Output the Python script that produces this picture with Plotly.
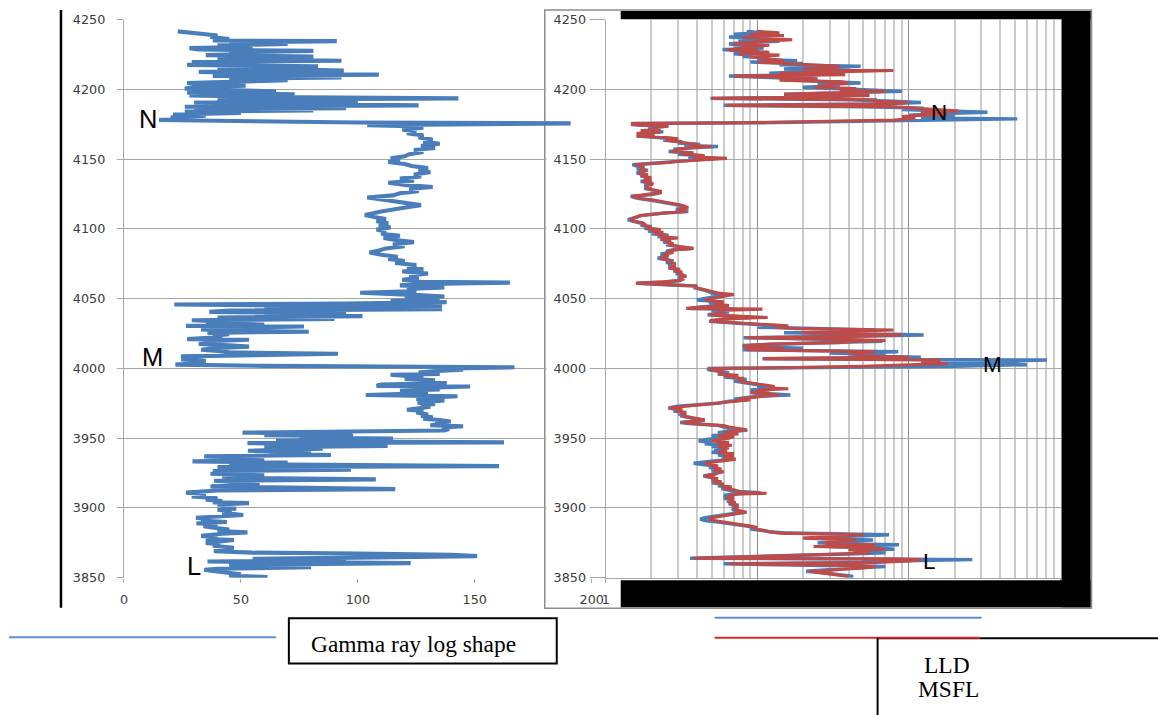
import math
import plotly.graph_objects as go

# The photographed page appears slightly shrunk and offset; positions below are
# reference pixels converted to page pixels through that measured mapping.
BX, AX = 0.9835, 3.0
BY, AY = 0.978, 8.0
W, H = 1180, 725
S = 1 / 0.98  # size compensation for fonts / line widths


def qx(p):
    return (p - AX) / BX


def qy(p):
    return (p - AY) / BY


def fx(p):
    return qx(p) / W


def fy(p):
    return 1 - qy(p) / H


# ---------------- Gamma ray log (API) vs depth ----------------
gr_depth_a = [4241.5, 4240.5, 4239.5, 4238.5, 4237.5, 4236.0, 4235.0, 4234.5, 4233.5, 4232.5,
              4231.5, 4230.5, 4229.5, 4228.5, 4227.5, 4226.5, 4225.5, 4224.5, 4223.5, 4222.5,
              4221.5, 4220.5, 4219.5, 4218.5, 4217.5, 4216.5, 4215.5, 4214.5, 4213.5, 4212.5,
              4211.5, 4210.5, 4209.5, 4208.5, 4207.5, 4206.5, 4205.5, 4204.5, 4203.5, 4202.5,
              4201.5, 4200.5, 4199.5, 4198.5, 4197.5, 4196.5, 4195.5, 4194.5, 4193.5, 4192.5,
              4191.5, 4190.5, 4189.5, 4188.5, 4187.5, 4186.5, 4185.5, 4184.8, 4184.0, 4183.0,
              4182.0, 4181.0, 4180.0, 4179.0, 4178.0, 4177.2, 4176.2, 4175.6, 4175.0, 4174.3]
gr_value_a = [23, 30, 35, 40, 37, 45, 38, 91, 45, 70,
              40, 55, 28, 32, 81, 45, 60, 35, 81, 40,
              55, 93, 29, 50, 27, 83, 40, 70, 94, 32,
              60, 109, 38, 93, 45, 70, 40, 27, 35, 52,
              30, 26, 45, 65, 27, 73, 28, 60, 143, 40,
              100, 30, 80, 126, 26, 95, 30, 81, 26, 50,
              21, 35, 20, 25, 15, 45, 100, 191, 112, 104]

gr_depth_b = [4173.5, 4172.5, 4171, 4170, 4168.5, 4167, 4165.5, 4164, 4162.5, 4161,
              4159.5, 4158, 4156.5, 4155, 4153.5, 4152, 4150.5, 4149.5, 4148, 4146.5,
              4145, 4143.5, 4142, 4140.5, 4139, 4137.5, 4136, 4134.5, 4133, 4131.5,
              4130, 4128.5, 4127, 4125.5, 4124, 4122.5, 4121.5, 4120, 4118.5, 4117,
              4115.5, 4114, 4112.5, 4111, 4110, 4108.5, 4107, 4105.5, 4104, 4102.5,
              4101, 4099.5, 4098, 4096.5, 4095, 4093.5, 4092, 4090.5, 4089, 4087.5,
              4086, 4084.5, 4083, 4081.5, 4080, 4078.5, 4077, 4075.5, 4074, 4072.5,
              4071, 4069.5, 4068, 4066.5, 4065, 4063.5, 4062, 4061.5, 4060.5, 4059.5,
              4058, 4057, 4055.5, 4054.2, 4053.5, 4052.5, 4051.5, 4050.5, 4049.5, 4048.5,
              4047.5, 4046.5]
gr_value_b = [122, 128, 119, 125, 121, 128, 126, 132, 128, 135,
              127, 133, 124, 128, 122, 120, 114, 118, 113, 120,
              123, 130, 126, 131, 124, 127, 118, 124, 113, 120,
              132, 122, 126, 118, 115, 104, 108, 115, 120, 127,
              121, 115, 110, 106, 103, 107, 112, 108, 113, 109,
              114, 108, 112, 110, 118, 111, 116, 124, 115, 120,
              112, 109, 105, 110, 117, 113, 120, 116, 125, 121,
              128, 119, 130, 122, 126, 119, 127, 165, 128, 118,
              137, 121, 125, 101, 115, 126, 137, 120, 135, 114,
              138, 95]

gr_depth_c = [4045.8, 4045, 4044.3, 4043.5, 4042.5, 4041.5, 4040.5, 4039.5, 4038.5, 4037.5,
              4036.5, 4035.5, 4034.5, 4033.5, 4032.5, 4031.5, 4030.5, 4030, 4029, 4028,
              4027, 4026.3, 4025.5, 4024.5, 4023.5, 4022.5, 4021, 4020.5, 4019.5, 4018.5,
              4017.5, 4016.5, 4015.6, 4014.5, 4013.4, 4012.5, 4011.5, 4010.5, 4009.5, 4008.6,
              4007.5, 4006.5, 4005.5, 4004.5, 4003.5, 4002.7, 4001.8, 4000.8, 4000]
gr_value_c = [21.5, 90, 136, 60, 136, 45, 36.5, 95, 60, 102,
              40, 90, 29, 45, 35, 60, 26.5, 77, 40, 33,
              45, 79, 35.7, 45, 38, 42, 27, 53.5, 35, 40,
              32, 45, 53.5, 38, 33, 40, 45, 91.5, 40, 24.4,
              30, 24.5, 35, 28, 30, 22, 60, 167, 140]

gr_depth_d = [3999, 3998, 3997, 3996, 3995.5, 3994.5, 3993.5, 3992.5, 3991.5, 3990.5,
              3989.5, 3988.5, 3987.5, 3987, 3986, 3985, 3984, 3983, 3982, 3981,
              3980, 3979, 3978, 3977, 3976, 3975.4, 3974.5, 3973.5, 3972.5, 3971.5,
              3970.4, 3969.5, 3968.5, 3967, 3966, 3965, 3964, 3963, 3962, 3961,
              3960, 3959.3, 3958.5, 3957.5, 3956.5, 3955.5, 3954.5]
gr_value_d = [145, 132, 126, 135, 114, 122, 128, 120, 133, 125,
              138, 110, 108, 148, 128, 135, 118, 130, 124, 103.4,
              142.6, 130, 125, 137, 128, 125.5, 133, 127, 131, 124,
              121, 128, 125, 130, 127, 132, 128, 135, 139.7, 133,
              137, 131, 145, 136, 139, 137, 96]

gr_depth_e = [3954, 3953.5, 3953, 3952.2, 3951.5, 3950.5, 3949.8, 3949, 3948.3, 3947.5,
              3947, 3946.5, 3945.5, 3944.5, 3943.5, 3942.5, 3941.8, 3941, 3940, 3939,
              3938, 3937, 3936, 3935, 3934.2, 3933.4, 3932.5, 3931.5, 3930.8, 3930,
              3929.3, 3928.5, 3927.4, 3926.5, 3925.5, 3924.5, 3923.5, 3922.5, 3921.5, 3920.5,
              3919.5, 3918.5, 3917.5, 3916.5, 3915.5, 3914.5, 3913.5, 3912.5, 3911.5, 3911,
              3910, 3909, 3908.3, 3907, 3906, 3905, 3904, 3903.5, 3902.5, 3901.5,
              3900.5, 3899.5, 3898.7, 3897.5, 3896.5, 3895, 3894, 3893, 3892, 3891,
              3890, 3889, 3888, 3887, 3885.8, 3884.5, 3883.5, 3882.5, 3881.5, 3880,
              3879, 3878, 3877, 3876, 3875, 3874, 3873, 3871.5, 3870.5, 3869,
              3868, 3867.4, 3866.5, 3865.5, 3864.5, 3863.5, 3862.5, 3861.7, 3860.5, 3859.5,
              3858.5, 3857.5, 3856.5, 3855.7, 3854.8, 3853.6, 3852.5, 3851.5, 3850.5]
gr_value_e = [50.7, 70, 97.7, 60, 98, 75, 115, 112.7, 65, 120,
              162.5, 52.8, 100, 112.7, 60, 85, 72.8, 53, 80, 62,
              88.5, 34.3, 55, 40, 60, 29.3, 70, 45, 100, 160.4,
              40, 85, 97, 38, 52, 37, 60, 42, 55, 107.7,
              38.5, 50, 45, 58, 37, 70, 116, 40, 30, 26.5,
              35, 31, 29, 40, 35, 42, 38, 53.5, 40, 45,
              42, 48, 40, 46, 42, 51, 38, 30.8, 36, 33,
              44, 31, 40, 34, 38.5, 45, 40, 52.8, 42, 33,
              40, 35, 47, 40, 35, 41, 38, 47, 42, 38.5,
              55, 100, 140, 151, 110, 55, 95, 35.7, 122.6, 60,
              45, 80, 40, 34.3, 38, 44.3, 50, 45, 61.4]

# ---------------- Resistivity logs (ohm.m) vs depth ----------------
res_depth_1 = [4241.5, 4240.5, 4239.5, 4238.5, 4237.5, 4236.5, 4235.5, 4234.5, 4233.5, 4232.5,
               4231.5, 4230.5, 4229.5, 4228.5, 4227.5, 4226.5, 4225.5, 4224.5, 4223.5, 4222.5,
               4221.5, 4220.5, 4219.5, 4218.5, 4217.5, 4216.5, 4215.5, 4214.5, 4213.5, 4212.5,
               4211.5, 4210.5, 4209.5, 4208.5, 4207.5, 4206.5, 4205.5, 4204.5, 4203.5, 4202.5,
               4201.5, 4200.5, 4199.5, 4198.5, 4197.5, 4196.5, 4195.5, 4194.5, 4193.5, 4192.5,
               4191.5, 4190.5, 4189.5, 4188.5, 4187.5, 4186.5, 4185.5, 4184.5, 4183.5, 4182.5,
               4181.5, 4180.5, 4179.5, 4178.8, 4178, 4177, 4176, 4175.5]
lld_1 = [8.5, 11, 7, 12, 6.5, 10, 7.5, 14, 8, 6.5,
         9, 7, 11, 5.9, 8, 10, 7, 9, 8, 12,
         10, 18.3, 9, 20, 14, 48, 25, 15, 40, 20,
         12, 25, 6.5, 12, 20, 18, 30, 48, 25, 35,
         20, 40, 55, 90, 35, 15, 40, 30, 4.9, 40,
         80, 120, 60, 6, 50, 125, 90, 150, 330, 150,
         100, 200, 120, 518, 150, 40, 10, 1.5]
msfl_1 = [10, 14, 9, 15, 8, 13, 17, 11, 9, 7,
          12, 8, 10, 6.3, 9, 12, 7.5, 14, 9, 11,
          13, 15, 10, 16, 22, 35, 30, 20, 79, 30,
          14, 38, 7, 15, 25, 14, 35, 40, 30, 28,
          24, 45, 35, 70, 28, 15, 55, 25, 5, 60,
          60, 100, 70, 6.3, 80, 110, 150, 213, 120, 180,
          125, 90, 110, 100, 80, 30, 8, 1.5]

res_depth_2 = [4174.5, 4173.5, 4172.5, 4171.5, 4170.5, 4169.5, 4168.5, 4167.5, 4166.5, 4165.5,
               4164.5, 4163.5, 4162.5, 4161.5, 4160.5, 4159.5, 4159, 4158, 4157, 4156,
               4155.5, 4154.5, 4153.5, 4152.5, 4151.5, 4150.5, 4149.5, 4148.5, 4147.5, 4146.5,
               4146, 4145, 4144, 4143, 4142, 4141, 4140, 4139, 4138, 4137,
               4136, 4135, 4134, 4133, 4132, 4131, 4130, 4129, 4128, 4127,
               4126, 4125, 4124, 4123.4, 4122.5, 4121.5, 4120.5, 4119.5, 4118.5, 4117.5,
               4116.5, 4115.5, 4115, 4114, 4113, 4112.5, 4111.5, 4110.5, 4109.5, 4108.5,
               4107.5, 4106.6, 4105.5, 4104.5, 4103.5, 4102.5, 4101.5, 4100.5, 4099.5, 4098.5,
               4097.5, 4096.5, 4095.5, 4094.5, 4093.5, 4092.5, 4091.5, 4090.5, 4089.5, 4088.5,
               4087.5, 4086.5, 4086, 4085, 4084, 4083, 4082, 4081, 4080, 4079,
               4078, 4077, 4076, 4075, 4074, 4073, 4072, 4071, 4070, 4069,
               4068, 4067, 4066, 4065, 4064, 4063, 4062, 4061, 4060, 4059,
               4058, 4057, 4056, 4055, 4054, 4053, 4052, 4051, 4050, 4049]
lld_2 = [1.6, 2.5, 1.9, 2.2, 1.8, 2.4, 1.7, 2.0, 1.6, 2.2,
         2.8, 2.4, 3.2, 3.0, 4.2, 3.3, 5.5, 3.5, 2.8, 3.0,
         2.6, 3.5, 3.0, 4.2, 3.5, 5.5, 4.0, 3.2, 2.5, 1.7,
         1.5, 1.6, 1.8, 1.6, 1.9, 1.7, 1.6, 1.8, 1.7, 1.9,
         1.8, 1.9, 1.7, 1.9, 2.0, 1.8, 1.9, 1.8, 2.0, 2.2,
         2.3, 2.1, 1.8, 1.46, 1.55, 1.7, 2.0, 2.3, 2.6, 3.0,
         3.2, 3.3, 3.4, 2.9, 3.3, 3.5, 2.5, 2.0, 1.7, 1.6,
         1.5, 1.4, 1.5, 1.7, 1.8, 1.7, 2.0, 1.8, 2.2, 1.9,
         2.3, 2.0, 2.6, 2.2, 2.8, 2.3, 2.6, 2.4, 2.7, 2.5,
         2.9, 3.6, 3.7, 2.8, 2.5, 2.7, 2.3, 2.6, 2.4, 2.2,
         2.5, 2.8, 2.5, 2.7, 2.6, 2.8, 2.6, 3.0, 2.8, 3.1,
         2.9, 3.2, 3.3, 3.0, 3.2, 3.1, 2.5, 1.6, 2.5, 4.0,
         3.8, 4.2, 4.5, 4.8, 5.0, 5.5, 6.0, 5.0, 4.5, 4.0]
msfl_2 = [1.5, 2.6, 2.0, 2.3, 1.7, 2.3, 1.6, 2.1, 1.6, 2.5,
          3.0, 2.5, 3.0, 3.3, 4.0, 3.6, 5.0, 3.5, 3.0, 2.9,
          2.7, 3.8, 3.2, 4.5, 3.8, 6.3, 4.5, 3.0, 2.6, 1.8,
          1.55, 1.7, 1.75, 1.7, 1.85, 1.75, 1.65, 1.9, 1.7, 2.0,
          1.8, 2.0, 1.75, 2.0, 2.05, 1.85, 2.0, 1.85, 2.1, 2.3,
          2.3, 2.0, 1.7, 1.5, 1.6, 1.75, 2.1, 2.4, 2.7, 3.0,
          3.3, 3.4, 3.5, 3.0, 3.3, 3.4, 2.6, 2.1, 1.7, 1.6,
          1.5, 1.45, 1.55, 1.75, 1.8, 1.75, 2.0, 1.85, 2.3, 2.0,
          2.4, 2.1, 2.5, 2.3, 3.0, 2.3, 2.7, 2.5, 2.8, 2.6,
          3.0, 3.7, 3.8, 2.9, 2.6, 2.8, 2.4, 2.6, 2.5, 2.3,
          2.5, 2.7, 2.6, 2.9, 2.7, 2.9, 2.6, 3.1, 2.8, 3.2,
          3.0, 3.2, 3.4, 3.1, 3.3, 3.0, 2.4, 1.58, 2.6, 4.0,
          3.9, 4.3, 4.6, 5.0, 5.5, 7.0, 6.0, 5.5, 5.0, 4.5]

res_depth_3 = [4048, 4047, 4046, 4045, 4044, 4043, 4042.5, 4041.5, 4040.5, 4039.5,
               4038.5, 4037.5, 4036.5, 4035.5, 4034.5, 4033.7, 4032.5, 4031.5, 4030.5, 4029.5,
               4028.5, 4027.5, 4026.5, 4025.5, 4024.5, 4024, 4023, 4022, 4021, 4020,
               4019.4, 4018.5, 4017.5, 4016.5, 4015.5, 4014.5, 4013.4, 4012.5, 4012, 4011,
               4010, 4009, 4008, 4007, 4006, 4005, 4004, 4003.5, 4002.7, 4001.5,
               4000.5, 4000]
lld_3 = [5.5, 4.8, 6.0, 5.5, 4.2, 3.6, 7.0, 5.0, 6.5, 5.5,
         4.7, 6.5, 9.0, 6.5, 5.5, 4.8, 7.0, 9.5, 14, 10,
         20, 60, 30, 15, 80, 125, 40, 8.1, 25, 50,
         67, 30, 15, 8, 9, 20, 8, 40, 85, 30,
         70, 40, 120, 10.8, 814, 300, 150, 400, 600, 200,
         20, 4.7]
msfl_3 = [6.0, 5.2, 5.5, 6.5, 4.5, 3.4, 10.8, 5.5, 6.0, 5.8,
          4.8, 7.5, 11.7, 6.0, 5.0, 5.0, 8.0, 11, 16, 13,
          18, 79, 40, 20, 60, 90, 50, 8.5, 30, 70,
          45, 35, 12, 9, 8, 15, 8.5, 35, 60, 40,
          50, 45, 100, 11, 162, 150, 120, 180, 100, 50,
          15, 4.8]

res_depth_4 = [3999, 3998, 3997, 3996, 3995, 3994, 3993, 3992, 3991, 3990,
               3989, 3988, 3987, 3986, 3985.5, 3984.5, 3983.5, 3982.5, 3981, 3980,
               3979, 3978, 3977.6, 3976.5, 3975, 3974, 3973, 3972, 3971.6, 3970.5,
               3969.5, 3968.5, 3967.5, 3966.8, 3966, 3965, 3964, 3963, 3962, 3961.3,
               3960.5, 3959.5, 3959, 3958, 3957, 3956, 3955.6, 3955]
lld_4 = [4.8, 5.5, 6.5, 5.5, 7.0, 6.0, 7.5, 8.5, 7.0, 8.0,
         9.0, 10, 12, 10, 13, 9, 11, 9.5, 16.5, 10,
         8, 7, 8.7, 6.5, 5.5, 4.0, 3.0, 2.7, 2.6, 3.0,
         2.8, 3.3, 3.0, 3.3, 3.1, 3.5, 3.8, 4.5, 3.5, 3.1,
         3.6, 4.5, 5.6, 6.0, 6.5, 8.0, 8.6, 6.5]
msfl_4 = [5.0, 5.8, 6.0, 5.5, 7.5, 6.2, 8.0, 8.0, 7.5, 8.5,
          9.5, 11, 13, 12, 16, 10, 12, 9.0, 14, 11,
          8.5, 7.5, 9, 7, 5.5, 4.2, 3.2, 2.8, 2.6, 3.2,
          2.9, 3.4, 3.1, 3.4, 3.2, 3.6, 3.9, 4.5, 3.6, 3.2,
          3.7, 4.8, 6.0, 6.5, 7.5, 8.5, 8.0, 7.0]

res_depth_5 = [3954, 3953, 3952, 3951, 3950, 3949, 3948, 3947, 3946, 3945,
               3944, 3943, 3942, 3941, 3940, 3939, 3938, 3937, 3936, 3935,
               3934, 3933, 3932, 3931, 3930, 3929, 3928, 3927, 3926, 3925,
               3924, 3923, 3922, 3921, 3920, 3919, 3918, 3917, 3916, 3915,
               3914, 3913, 3912, 3911, 3910.5, 3910, 3909, 3908, 3907, 3906,
               3905, 3904, 3903, 3902, 3901, 3900, 3899, 3898, 3897, 3896,
               3895, 3894, 3893, 3892, 3891, 3890, 3889, 3888, 3887, 3886,
               3885, 3884, 3883, 3882, 3881, 3880.8, 3880, 3879, 3878.4, 3877.5,
               3877, 3876, 3875, 3874, 3873.6, 3872.4, 3871.5, 3870.5, 3870, 3869,
               3868, 3867, 3866, 3865, 3864, 3863.5, 3863, 3862, 3861, 3860,
               3859, 3858, 3857, 3856, 3855, 3854.6, 3853, 3852, 3851]
lld_5 = [5.5, 7.0, 5.0, 6.5, 5.0, 4.5, 4.1, 5.0, 4.5, 6.0,
         5.0, 6.2, 5.2, 6.0, 5.0, 6.5, 5.5, 6.8, 5.8, 7.0,
         5.5, 4.5, 3.8, 4.5, 5.2, 4.8, 5.5, 5.0, 5.8, 5.3,
         5.0, 4.4, 4.8, 5.3, 5.0, 5.5, 5.0, 6.0, 5.5, 6.5,
         5.8, 6.5, 7.0, 10.5, 8.0, 7.0, 6.0, 6.5, 6.0, 7.0,
         6.3, 6.8, 6.5, 7.5, 6.8, 7.2, 6.8, 7.5, 8.0, 7.0,
         6.0, 5.0, 4.5, 4.2, 4.5, 5.5, 6.5, 7.5, 8.5, 9.5,
         9, 10.5, 12, 16, 40, 74, 45, 30, 22, 40,
         58, 35, 25, 50, 86, 30, 60, 80, 45, 60,
         70, 40, 20, 8, 3.6, 60, 262, 80, 50, 6.0,
         30, 70, 43, 30, 25, 21, 30, 35, 43]
msfl_5 = [6.0, 7.5, 5.5, 7.0, 6.5, 5.5, 5.0, 6.5, 5.5, 6.8,
          5.5, 6.5, 5.8, 6.3, 5.5, 7.0, 6.0, 7.0, 6.0, 7.2,
          6.0, 5.0, 4.5, 5.0, 5.5, 5.0, 5.8, 5.2, 6.0, 5.5,
          5.2, 4.5, 5.0, 5.5, 5.0, 5.8, 5.2, 6.0, 5.8, 6.8,
          6.0, 7.0, 7.5, 8.0, 11.5, 7.5, 6.5, 7.0, 6.2, 7.0,
          6.5, 7.2, 6.5, 7.5, 7.0, 7.5, 7.0, 8.0, 8.5, 7.5,
          6.5, 5.5, 5.0, 4.8, 5.2, 6.0, 7.0, 8.0, 9.0, 10,
          9.5, 11, 12, 14, 30, 50, 35, 25, 20, 35,
          45, 30, 28, 40, 60, 23.5, 55, 70, 40, 50,
          55, 35, 18, 7, 3.8, 80, 120, 100, 60, 6.5,
          40, 60, 50, 35, 28, 22, 30, 33, 40]

gr_depth = gr_depth_a + gr_depth_b + gr_depth_c + gr_depth_d + gr_depth_e
gr_value = gr_value_a + gr_value_b + gr_value_c + gr_value_d + gr_value_e
res_depth = res_depth_1 + res_depth_2 + res_depth_3 + res_depth_4 + res_depth_5
lld = lld_1 + lld_2 + lld_3 + lld_4 + lld_5
msfl = msfl_1 + msfl_2 + msfl_3 + msfl_4 + msfl_5

depth_ticks = [3850, 3900, 3950, 4000, 4050, 4100, 4150, 4200, 4250]
gr_ticks = [0, 50, 100, 150, 200]

zone_names = ["N", "M", "L"]
gr_zone_x = [10.3, 12.0, 29.9]
gr_zone_depth = [4179.0, 4008.4, 3858.6]
res_zone_x = [157, 356, 135]
res_zone_depth = [4183.3, 4002.7, 3861.5]

BLUE = "#4a7ebb"
RED = "#be4b48"
GRID = "#a6a6a6"
TICKFONT = dict(family="DejaVu Sans", size=12.5 * S, color="#3c3c3c")

fig = go.Figure()
fig.add_trace(go.Scatter(x=gr_value, y=gr_depth, mode="lines",
                         line=dict(color=BLUE, width=4 * S), xaxis="x", yaxis="y",
                         name="Gamma ray", showlegend=False, hoverinfo="skip"))
fig.add_trace(go.Scatter(x=lld, y=res_depth, mode="lines",
                         line=dict(color=BLUE, width=3.4 * S), xaxis="x2", yaxis="y2",
                         name="LLD", showlegend=False, hoverinfo="skip"))
fig.add_trace(go.Scatter(x=msfl, y=res_depth, mode="lines",
                         line=dict(color=RED, width=3.0 * S), xaxis="x2", yaxis="y2",
                         name="MSFL", showlegend=False, hoverinfo="skip"))

ydom = [fy(577), fy(19.5)]
fig.update_layout(
    width=W, height=H, margin=dict(l=0, r=0, t=0, b=0),
    paper_bgcolor="white", plot_bgcolor="rgba(0,0,0,0)", showlegend=False,
    xaxis=dict(domain=[fx(123), fx(591)], range=[0, 200], tickvals=gr_ticks,
               showgrid=False, showline=False, zeroline=False,
               ticks="outside", ticklen=4, tickcolor=GRID, tickfont=TICKFONT,
               ticklabelstandoff=6, anchor="y", fixedrange=True),
    yaxis=dict(domain=ydom, range=[3850, 4250], tickvals=depth_ticks,
               showgrid=True, gridcolor=GRID, gridwidth=1.2,
               showline=True, linecolor=GRID, linewidth=1.2, zeroline=False,
               ticks="outside", ticklen=6, tickcolor=GRID, tickfont=TICKFONT,
               ticklabelstandoff=9, anchor="x", fixedrange=True),
    xaxis2=dict(domain=[fx(605), fx(1060)], type="log", range=[0, 3], dtick=1,
                showgrid=True, gridcolor="#8f8f8f", gridwidth=1.2,
                minor=dict(dtick="D1", showgrid=True, gridcolor="#cbcbcb", gridwidth=1.5),
                showline=True, linecolor=GRID, zeroline=False,
                ticks="outside", ticklen=4, tickcolor=GRID, tickfont=TICKFONT,
                ticklabelstandoff=6, anchor="y2", fixedrange=True),
    yaxis2=dict(domain=ydom, range=[3850, 4250], tickvals=depth_ticks,
                showgrid=True, gridcolor=GRID, gridwidth=1.2,
                showline=True, linecolor=GRID, linewidth=1.2, zeroline=False,
                ticks="outside", ticklen=15, tickcolor=GRID, tickfont=TICKFONT,
                ticklabelstandoff=1, anchor="x2", fixedrange=True),
)

shapes = []
# right panel frame (below everything)
shapes.append(dict(type="rect", xref="paper", yref="paper", layer="below",
                   x0=fx(544), x1=fx(1091), y0=fy(607.5), y1=fy(10),
                   fillcolor="white", line=dict(color="#8c8c8c", width=1.5)))
# hide the left chart's gridlines behind the right frame (traces stay on top)
shapes.append(dict(type="rect", xref="x", yref="y", layer="between",
                   x0=(545.6 - 123) / 2.34, x1=201, y0=3848, y1=4252,
                   fillcolor="white", line=dict(width=0)))
# black borders of the right chart
for (x0, x1, y0, y1) in [(620, 1090, 11, 19.2), (1061, 1090, 11, 606.5), (620, 1090, 579.5, 606.5)]:
    shapes.append(dict(type="rect", xref="paper", yref="paper", layer="above",
                       x0=fx(x0), x1=fx(x1), y0=fy(y1), y1=fy(y0),
                       fillcolor="black", line=dict(width=0)))
# left black rule
shapes.append(dict(type="line", xref="paper", yref="paper", x0=fx(60), x1=fx(60),
                   y0=fy(10), y1=fy(607), line=dict(color="black", width=2.5)))
# legend: gamma ray
shapes.append(dict(type="line", xref="paper", yref="paper", x0=fx(8), x1=fx(275),
                   y0=fy(636.5), y1=fy(636.5), line=dict(color="#5b8fd0", width=2)))
shapes.append(dict(type="rect", xref="paper", yref="paper", x0=fx(288), x1=fx(556),
                   y0=fy(662.5), y1=fy(617.5), line=dict(color="black", width=2)))
# legend: resistivity
shapes.append(dict(type="line", xref="paper", yref="paper", x0=fx(714), x1=fx(981),
                   y0=fy(617), y1=fy(617), line=dict(color="#5b8fd0", width=2)))
shapes.append(dict(type="line", xref="paper", yref="paper", x0=fx(877), x1=fx(1158),
                   y0=fy(637.5), y1=fy(637.5), line=dict(color="black", width=2)))
shapes.append(dict(type="line", xref="paper", yref="paper", x0=fx(714), x1=fx(980),
                   y0=fy(637), y1=fy(637), line=dict(color="#d42a2a", width=2)))
shapes.append(dict(type="line", xref="paper", yref="paper", x0=fx(877), x1=fx(877),
                   y0=fy(715), y1=fy(637), line=dict(color="black", width=2)))
fig.update_layout(shapes=shapes)

annotations = []
for name, xv, dv in zip(zone_names, gr_zone_x, gr_zone_depth):
    annotations.append(dict(x=xv, y=dv, xref="x", yref="y", text=name, showarrow=False,
                            xanchor="center", yanchor="middle",
                            font=dict(family="Liberation Sans", size=25 * S, color="black")))
for name, xv, dv in zip(zone_names, res_zone_x, res_zone_depth):
    annotations.append(dict(x=math.log10(xv), y=dv, xref="x2", yref="y2", text=name,
                            showarrow=False, xanchor="center", yanchor="middle",
                            font=dict(family="Liberation Sans", size=22 * S, color="black")))
serif = dict(family="Liberation Serif", size=23 * S, color="black")
annotations.append(dict(x=fx(413), y=fy(643), xref="paper", yref="paper",
                        xanchor="center", yanchor="middle",
                        text="Gamma ray log shape", showarrow=False, font=serif))
annotations.append(dict(x=fx(946), y=fy(664), xref="paper", yref="paper",
                        xanchor="center", yanchor="middle",
                        text="LLD", showarrow=False, font=serif))
annotations.append(dict(x=fx(948), y=fy(688.5), xref="paper", yref="paper",
                        xanchor="center", yanchor="middle",
                        text="MSFL", showarrow=False, font=serif))
fig.update_layout(annotations=annotations)

fig.write_html("out.html", config={"displayModeBar": False},
               post_script="document.documentElement.style.margin='0';"
                           "document.body.style.margin='0';"
                           "document.documentElement.style.overflow='hidden';"
                           "document.body.style.overflow='hidden';")
